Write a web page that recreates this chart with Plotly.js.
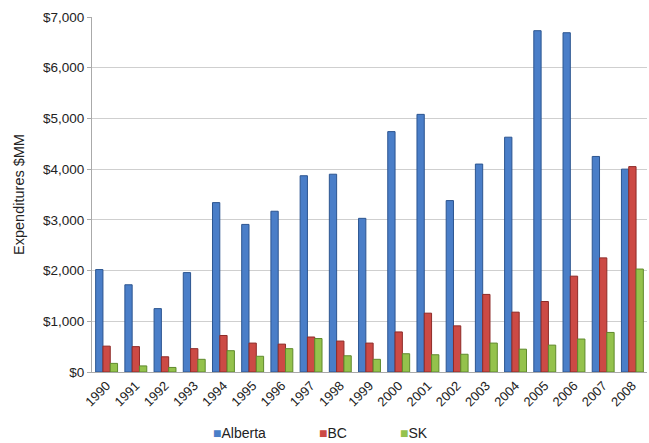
<!DOCTYPE html>
<html><head><meta charset="utf-8">
<script src="https://cdn.plot.ly/plotly-3.0.1.min.js"></script>
<style>html,body{margin:0;padding:0;background:#fff;}#chart{width:649px;height:443px;}</style>
</head><body><div id="chart"></div>
<script>
const years = ['1990','1991','1992','1993','1994','1995','1996','1997','1998','1999','2000','2001','2002','2003','2004','2005','2006','2007','2008'];
const alberta = [2020,1720,1250,1960,3340,2910,3170,3870,3900,3030,4740,5080,3380,4100,4630,6730,6690,4250,4000];
const bc = [510,500,300,460,720,570,550,690,610,570,790,1160,910,1530,1180,1390,1890,2250,4050];
const sk = [170,120,90,250,420,310,460,660,320,250,360,340,350,570,450,530,650,780,2030];
const yTickVals = [0,1000,2000,3000,4000,5000,6000,7000];
const yTickText = ['$0','$1,000','$2,000','$3,000','$4,000','$5,000','$6,000','$7,000'];
const seriesNames = ['Alberta','BC','SK'];
const fills = ['#4a7ec8','#cc4a45','#94c24c'];
const edges = ['#2c5590','#8e2b28','#5f8a2c'];
const legendX = [0.214, 0.405, 0.551];

const values = [alberta, bc, sk];
const data = values.map((v,i)=>({type:'bar', name:seriesNames[i], x:years, y:v,
  marker:{color:fills[i], line:{color:edges[i], width:1}}}));

const annotations = seriesNames.map((n,i)=>({
  xref:'paper', yref:'paper', x:legendX[i], y:-0.172, xanchor:'left', yanchor:'middle',
  showarrow:false, align:'left',
  text:'<span style="color:'+fills[i]+'">■</span>'+n,
  font:{size:14, color:'#222'}
}));

const layout = {
  width:649, height:443,
  margin:{l:92, r:2, t:17, b:71},
  paper_bgcolor:'#fff', plot_bgcolor:'#fff',
  font:{family:'"Liberation Sans", Arial, sans-serif', size:13, color:'#222'},
  barmode:'group', bargap:0.25, bargroupgap:0,
  xaxis:{type:'category', tickangle:-45, showgrid:false, showline:true, linecolor:'#aaa',
    ticks:'', tickfont:{size:13, color:'#222'}},
  yaxis:{range:[0,7000], tickvals:yTickVals, ticktext:yTickText, showgrid:true, gridcolor:'#cfcfcf',
    gridwidth:1, showline:true, linecolor:'#aaa', ticks:'outside', ticklen:4, tickcolor:'#aaa',
    zeroline:false, tickfont:{size:13.5, color:'#222'},
    title:{text:'Expenditures $MM', font:{size:14.5, color:'#222'}, standoff:14}},
  showlegend:false,
  annotations:annotations
};
Plotly.newPlot('chart', data, layout, {displayModeBar:false, staticPlot:true});
</script></body></html>
